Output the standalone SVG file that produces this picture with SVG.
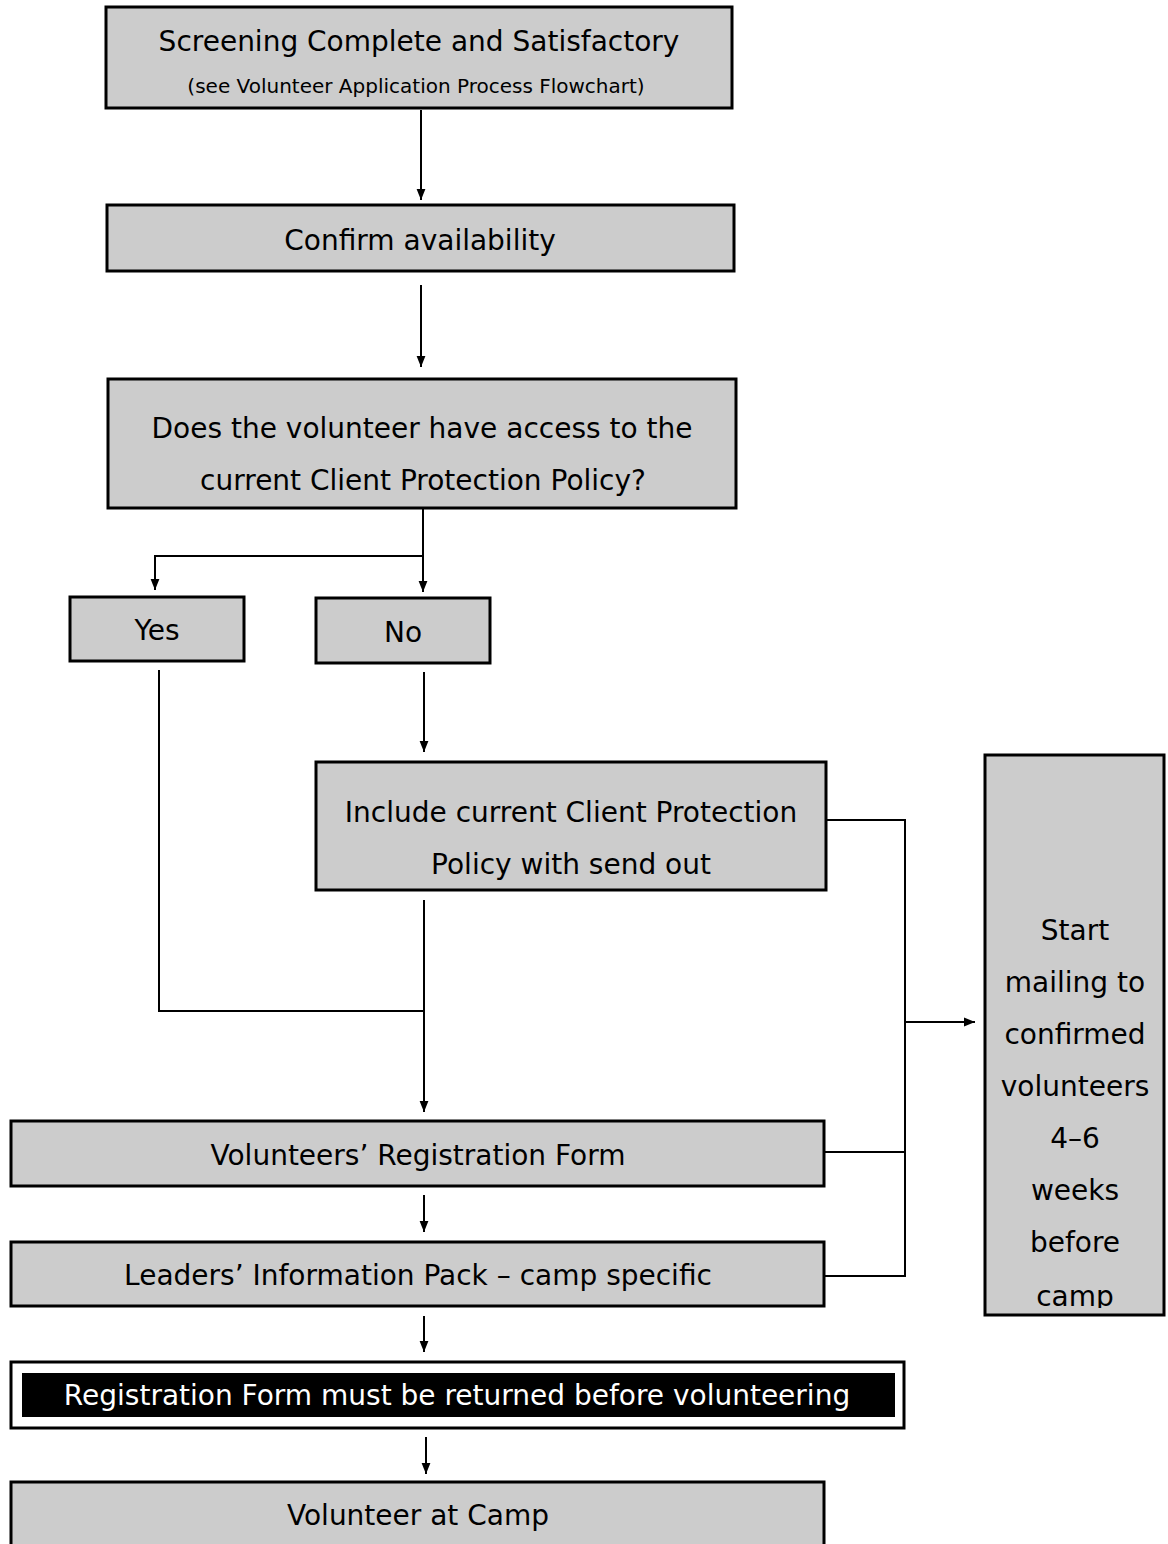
<svg xmlns="http://www.w3.org/2000/svg" width="1168" height="1544" viewBox="0 0 1168 1544">
<style>
.box{fill:#cccccc;stroke:#000;stroke-width:3}
.t{font-family:"DejaVu Sans",Verdana,sans-serif;font-size:28px;fill:#000;text-anchor:middle}
.s{font-size:20px}
.w{fill:#fff}
.c{fill:none;stroke:#000;stroke-width:2}
</style>
<defs>
<marker id="ah" viewBox="0 0 10 10" refX="10" refY="5" markerWidth="11" markerHeight="11" markerUnits="userSpaceOnUse" orient="auto">
<path d="M0,1 L10,5 L0,9 Z" fill="#000"/>
</marker>
</defs>
<rect width="1168" height="1544" fill="#fff"/>
<g id="connectors">
<path class="c" d="M421,110 V200" marker-end="url(#ah)"/>
<path class="c" d="M421,285 V367" marker-end="url(#ah)"/>
<path class="c" d="M423,508 V556 H155 V590" marker-end="url(#ah)"/>
<path class="c" d="M423,556 V592" marker-end="url(#ah)"/>
<path class="c" d="M159,670 V1011 H424"/>
<path class="c" d="M424,672 V752" marker-end="url(#ah)"/>
<path class="c" d="M424,900 V1112" marker-end="url(#ah)"/>
<path class="c" d="M424,1195 V1232" marker-end="url(#ah)"/>
<path class="c" d="M424,1316 V1352" marker-end="url(#ah)"/>
<path class="c" d="M426,1437 V1474" marker-end="url(#ah)"/>
<path class="c" d="M826,820 H905 V1276 H824"/>
<path class="c" d="M824,1152 H905"/>
<path class="c" d="M905,1022 H975" marker-end="url(#ah)"/>
</g>
<g id="n1">
<rect class="box" x="106" y="7" width="626" height="101"/>
<text class="t" x="419" y="51">Screening Complete and Satisfactory</text>
<text class="t s" x="416" y="93">(see Volunteer Application Process Flowchart)</text>
</g>
<g id="n2">
<rect class="box" x="107" y="205" width="627" height="66"/>
<text class="t" x="420" y="250">Confirm availability</text>
</g>
<g id="n3">
<rect class="box" x="108" y="379" width="628" height="129"/>
<text class="t" x="422" y="438">Does the volunteer have access to the</text>
<text class="t" x="423" y="490">current Client Protection Policy?</text>
</g>
<g id="yes">
<rect class="box" x="70" y="597" width="174" height="64"/>
<text class="t" x="157" y="640">Yes</text>
</g>
<g id="no">
<rect class="box" x="316" y="598" width="174" height="65"/>
<text class="t" x="403" y="642">No</text>
</g>
<g id="include">
<rect class="box" x="316" y="762" width="510" height="128"/>
<text class="t" x="571" y="822">Include current Client Protection</text>
<text class="t" x="571" y="874">Policy with send out</text>
</g>
<g id="regform">
<rect class="box" x="11" y="1121" width="813" height="65"/>
<text class="t" x="418" y="1165">Volunteers’ Registration Form</text>
</g>
<g id="leaders">
<rect class="box" x="11" y="1242" width="813" height="64"/>
<text class="t" x="418" y="1285">Leaders’ Information Pack – camp specific</text>
</g>
<g id="mustreturn">
<rect x="11" y="1362" width="893" height="66" fill="#fff" stroke="#000" stroke-width="3"/>
<rect x="22" y="1373" width="873" height="44" fill="#000"/>
<text class="t w" x="457" y="1405">Registration Form must be returned before volunteering</text>
</g>
<g id="camp">
<rect class="box" x="11" y="1482" width="813" height="70"/>
<text class="t" x="418" y="1525">Volunteer at Camp</text>
</g>
<g id="mailing">
<rect class="box" x="985" y="755" width="179" height="560"/>
<svg x="985" y="755" width="179" height="553" overflow="hidden">
<text class="t" x="90" y="185">Start</text>
<text class="t" x="90" y="237">mailing to</text>
<text class="t" x="90" y="289">confirmed</text>
<text class="t" x="90" y="341">volunteers</text>
<text class="t" x="90" y="393">4–6</text>
<text class="t" x="90" y="445">weeks</text>
<text class="t" x="90" y="497">before</text>
<text class="t" x="90" y="551">camp</text>
</svg>
</g>
</svg>
